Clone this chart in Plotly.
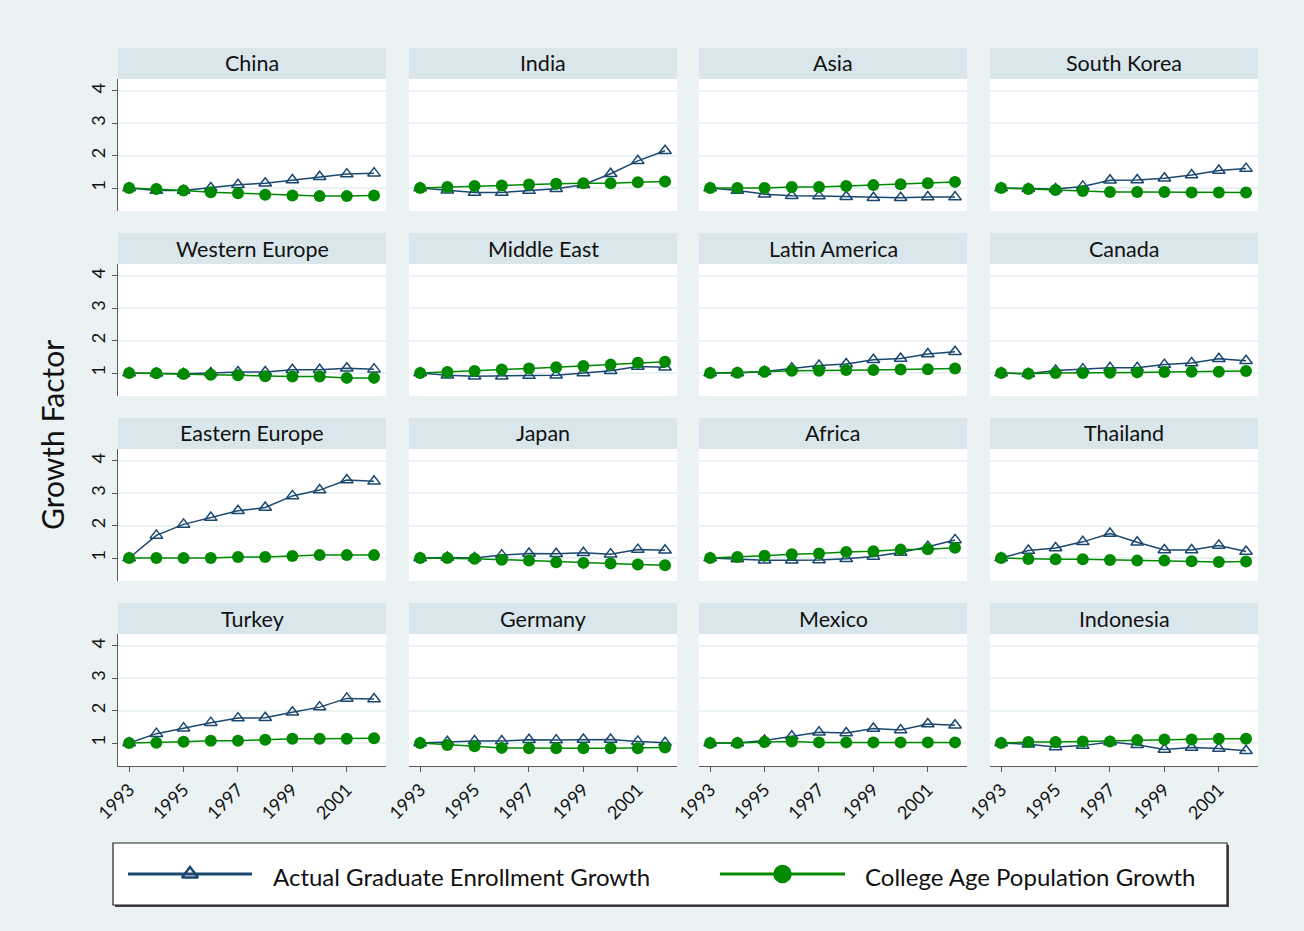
import plotly.graph_objects as go

W, H = 1304, 931

years = [1993, 1994, 1995, 1996, 1997, 1998, 1999, 2000, 2001, 2002]
year_ticks = [1993, 1995, 1997, 1999, 2001]
y_ticks = [1, 2, 3, 4]

regions = [
    "China", "India", "Asia", "South Korea",
    "Western Europe", "Middle East", "Latin America", "Canada",
    "Eastern Europe", "Japan", "Africa", "Thailand",
    "Turkey", "Germany", "Mexico", "Indonesia",
]

# Actual graduate enrollment growth (index, 1993 = 1)
enroll_china = [1.0, 0.92, 0.92, 1.0, 1.1, 1.15, 1.25, 1.35, 1.43, 1.46]
enroll_india = [1.0, 0.93, 0.86, 0.86, 0.92, 0.98, 1.1, 1.44, 1.84, 2.15]
enroll_asia = [1.0, 0.92, 0.81, 0.76, 0.75, 0.73, 0.7, 0.7, 0.72, 0.72]
enroll_skorea = [1.0, 0.98, 0.97, 1.05, 1.24, 1.25, 1.3, 1.4, 1.54, 1.6]
enroll_weurope = [1.0, 0.99, 0.98, 1.0, 1.03, 1.03, 1.1, 1.1, 1.15, 1.12]
enroll_mideast = [1.0, 0.93, 0.9, 0.9, 0.92, 0.93, 1.0, 1.07, 1.2, 1.18]
enroll_latam = [1.0, 1.0, 1.05, 1.15, 1.23, 1.28, 1.41, 1.45, 1.59, 1.66]
enroll_canada = [1.0, 0.98, 1.08, 1.12, 1.16, 1.16, 1.26, 1.31, 1.44, 1.38]
enroll_eeurope = [1.0, 1.7, 2.04, 2.25, 2.46, 2.56, 2.92, 3.1, 3.41, 3.37]
enroll_japan = [1.0, 1.02, 1.0, 1.09, 1.14, 1.13, 1.16, 1.12, 1.26, 1.24]
enroll_africa = [1.0, 0.97, 0.93, 0.93, 0.94, 0.98, 1.05, 1.17, 1.35, 1.56]
enroll_thailand = [1.0, 1.23, 1.31, 1.5, 1.76, 1.49, 1.25, 1.25, 1.39, 1.2]
enroll_turkey = [1.0, 1.29, 1.46, 1.63, 1.77, 1.78, 1.95, 2.11, 2.38, 2.36]
enroll_germany = [1.0, 1.04, 1.06, 1.06, 1.1, 1.09, 1.11, 1.11, 1.05, 1.01]
enroll_mexico = [1.0, 1.0, 1.08, 1.21, 1.33, 1.31, 1.45, 1.4, 1.59, 1.55]
enroll_indonesia = [1.0, 0.96, 0.88, 0.92, 1.03, 0.95, 0.8, 0.86, 0.83, 0.76]

# College age population growth (index, 1993 = 1)
pop_china = [1.0, 0.97, 0.92, 0.87, 0.84, 0.79, 0.77, 0.75, 0.75, 0.77]
pop_india = [1.0, 1.03, 1.06, 1.08, 1.11, 1.13, 1.15, 1.15, 1.18, 1.2]
pop_asia = [1.0, 1.0, 1.0, 1.03, 1.03, 1.06, 1.09, 1.12, 1.15, 1.19]
pop_skorea = [1.0, 0.97, 0.94, 0.91, 0.88, 0.88, 0.88, 0.86, 0.86, 0.86]
pop_weurope = [1.0, 0.99, 0.97, 0.95, 0.93, 0.9, 0.89, 0.89, 0.85, 0.85]
pop_mideast = [1.0, 1.03, 1.06, 1.11, 1.14, 1.18, 1.22, 1.26, 1.32, 1.35]
pop_latam = [1.0, 1.01, 1.04, 1.07, 1.07, 1.09, 1.09, 1.11, 1.12, 1.14]
pop_canada = [1.0, 0.98, 1.0, 1.0, 1.01, 1.02, 1.03, 1.04, 1.04, 1.06]
pop_eeurope = [1.0, 1.0, 1.0, 1.0, 1.03, 1.03, 1.06, 1.09, 1.09, 1.09]
pop_japan = [1.0, 1.0, 0.98, 0.95, 0.92, 0.87, 0.85, 0.83, 0.8, 0.78]
pop_africa = [1.0, 1.03, 1.07, 1.12, 1.14, 1.19, 1.21, 1.26, 1.27, 1.32]
pop_thailand = [1.0, 0.97, 0.96, 0.96, 0.94, 0.92, 0.92, 0.9, 0.88, 0.89]
pop_turkey = [1.0, 1.01, 1.04, 1.07, 1.07, 1.1, 1.13, 1.13, 1.13, 1.15]
pop_germany = [1.0, 0.94, 0.9, 0.85, 0.84, 0.84, 0.84, 0.84, 0.84, 0.86]
pop_mexico = [1.0, 1.0, 1.03, 1.05, 1.02, 1.02, 1.02, 1.02, 1.02, 1.02]
pop_indonesia = [1.0, 1.03, 1.03, 1.05, 1.05, 1.09, 1.11, 1.11, 1.13, 1.13]

enroll = [
    enroll_china, enroll_india, enroll_asia, enroll_skorea,
    enroll_weurope, enroll_mideast, enroll_latam, enroll_canada,
    enroll_eeurope, enroll_japan, enroll_africa, enroll_thailand,
    enroll_turkey, enroll_germany, enroll_mexico, enroll_indonesia,
]
population = [
    pop_china, pop_india, pop_asia, pop_skorea,
    pop_weurope, pop_mideast, pop_latam, pop_canada,
    pop_eeurope, pop_japan, pop_africa, pop_thailand,
    pop_turkey, pop_germany, pop_mexico, pop_indonesia,
]

legend_labels = ["Actual Graduate Enrollment Growth", "College Age Population Growth"]

# ---- styling ----
FONT = "Lato"
NAVY = "#1a476f"
GREEN = "#008a00"
OUTER_BG = "#eaf2f3"
STRIP_BG = "#d9e6eb"
GRID = "#eaf2f3"
AXIS = "#5a5a5a"

col_left = [118, 409, 699, 990]
panel_w = 268
row_top = [79, 264, 449, 634]
panel_h = 132
strip_h = 31


def px_x(v):
    return v / W


def px_y(v):
    return 1 - v / H


fig = go.Figure()
layout = dict(
    width=W, height=H,
    margin=dict(l=0, r=0, t=0, b=0, autoexpand=False),
    paper_bgcolor=OUTER_BG,
    plot_bgcolor="white",
    showlegend=False,
    font=dict(family=FONT, color="#111111"),
)
shapes = []
annotations = []

for i, name in enumerate(regions):
    r, c = divmod(i, 4)
    k = i + 1
    xa = "x" if k == 1 else f"x{k}"
    ya = "y" if k == 1 else f"y{k}"
    xkey = "xaxis" if k == 1 else f"xaxis{k}"
    ykey = "yaxis" if k == 1 else f"yaxis{k}"
    x0, x1 = col_left[c], col_left[c] + panel_w
    y0, y1 = row_top[r], row_top[r] + panel_h

    layout[xkey] = dict(
        domain=[px_x(x0), px_x(x1)], anchor=ya,
        range=[1992.59, 2002.44],
        tickvals=year_ticks, ticktext=[str(t) for t in year_ticks],
        showticklabels=(r == 3), ticks="outside" if r == 3 else "",
        ticklen=5, tickcolor=AXIS, tickangle=-45,
        tickfont=dict(size=18, family=FONT, color="#111111"),
        showline=(r == 3), linecolor=AXIS, linewidth=1.2,
        showgrid=False, zeroline=False, fixedrange=True, automargin=False,
    )
    layout[ykey] = dict(
        domain=[px_y(y1), px_y(y0)], anchor=xa,
        range=[0.29, 4.37],
        tickvals=y_ticks, ticktext=[str(t) for t in y_ticks],
        showticklabels=(c == 0), ticks="outside" if c == 0 else "",
        ticklen=5, tickcolor=AXIS, tickangle=-90,
        tickfont=dict(size=18, family=FONT, color="#111111"),
        showline=(c == 0), linecolor=AXIS, linewidth=1.2,
        showgrid=True, gridcolor=GRID, gridwidth=1.5,
        zeroline=False, fixedrange=True, automargin=False,
    )

    # facet strip
    shapes.append(dict(
        type="rect", xref="paper", yref="paper",
        x0=px_x(x0), x1=px_x(x1), y0=px_y(y0), y1=px_y(y0 - strip_h),
        fillcolor=STRIP_BG, line=dict(width=0), layer="below",
    ))
    annotations.append(dict(
        text=name, xref="paper", yref="paper",
        x=px_x((x0 + x1) / 2), y=px_y(y0 - strip_h / 2),
        xanchor="center", yanchor="middle", showarrow=False,
        font=dict(size=21.5, family=FONT, color="#111111"),
    ))

    fig.add_trace(go.Scatter(
        x=years, y=enroll[i], xaxis=xa, yaxis=ya, mode="lines+markers",
        line=dict(color=NAVY, width=1.5),
        marker=dict(symbol="triangle-up-open", size=11, color=NAVY,
                    line=dict(width=1.5, color=NAVY)),
        name=legend_labels[0], hoverinfo="x+y",
    ))
    fig.add_trace(go.Scatter(
        x=years, y=population[i], xaxis=xa, yaxis=ya, mode="lines+markers",
        line=dict(color=GREEN, width=1.5),
        marker=dict(symbol="circle", size=12, color=GREEN),
        name=legend_labels[1], hoverinfo="x+y",
    ))

# ---- y-axis title ----
annotations.append(dict(
    text="Growth Factor", xref="paper", yref="paper",
    x=px_x(52), y=px_y(435), textangle=-90,
    xanchor="center", yanchor="middle", showarrow=False,
    font=dict(size=30, family=FONT, color="#111111"),
))

# ---- legend box ----
lx0, lx1, ly0, ly1 = 113, 1227, 843, 905
shapes.append(dict(
    type="rect", xref="paper", yref="paper",
    x0=px_x(lx0 + 2), x1=px_x(lx1 + 2), y0=px_y(ly1 + 2), y1=px_y(ly0 + 2),
    fillcolor="#444444", line=dict(width=0), layer="below",
))
shapes.append(dict(
    type="rect", xref="paper", yref="paper",
    x0=px_x(lx0), x1=px_x(lx1), y0=px_y(ly1), y1=px_y(ly0),
    fillcolor="white", line=dict(color="#222222", width=1.2), layer="below",
))

# legend keys live on their own hidden axes, measured in pixels
layout["xaxis17"] = dict(domain=[px_x(lx0), px_x(lx1)], range=[lx0, lx1], anchor="y17",
                         visible=False, fixedrange=True, automargin=False)
layout["yaxis17"] = dict(domain=[px_y(ly1), px_y(ly0)], range=[ly1, ly0], anchor="x17",
                         visible=False, fixedrange=True, automargin=False)
key_y = 874
key_specs = [
    (128, 252, NAVY, "triangle-up-open", 14, 271),
    (720, 845, GREEN, "circle", 16, 863),
]
for (kx0, kx1, color, symbol, msize, tx), label in zip(key_specs, legend_labels):
    fig.add_trace(go.Scatter(
        x=[kx0, kx1], y=[key_y, key_y], xaxis="x17", yaxis="y17", mode="lines",
        line=dict(color=color, width=3), hoverinfo="skip",
    ))
    fig.add_trace(go.Scatter(
        x=[(kx0 + kx1) / 2], y=[key_y], xaxis="x17", yaxis="y17", mode="markers",
        marker=dict(symbol=symbol, size=msize, color=color, line=dict(width=2.5, color=color)),
        hoverinfo="skip",
    ))
    annotations.append(dict(
        text=label, xref="paper", yref="paper",
        x=px_x(tx), y=px_y(key_y + 2), xanchor="left", yanchor="middle",
        showarrow=False, font=dict(size=24, family=FONT, color="#111111"),
    ))

layout["shapes"] = shapes
layout["annotations"] = annotations
fig.update_layout(**layout)
fig.write_html("out.html")
